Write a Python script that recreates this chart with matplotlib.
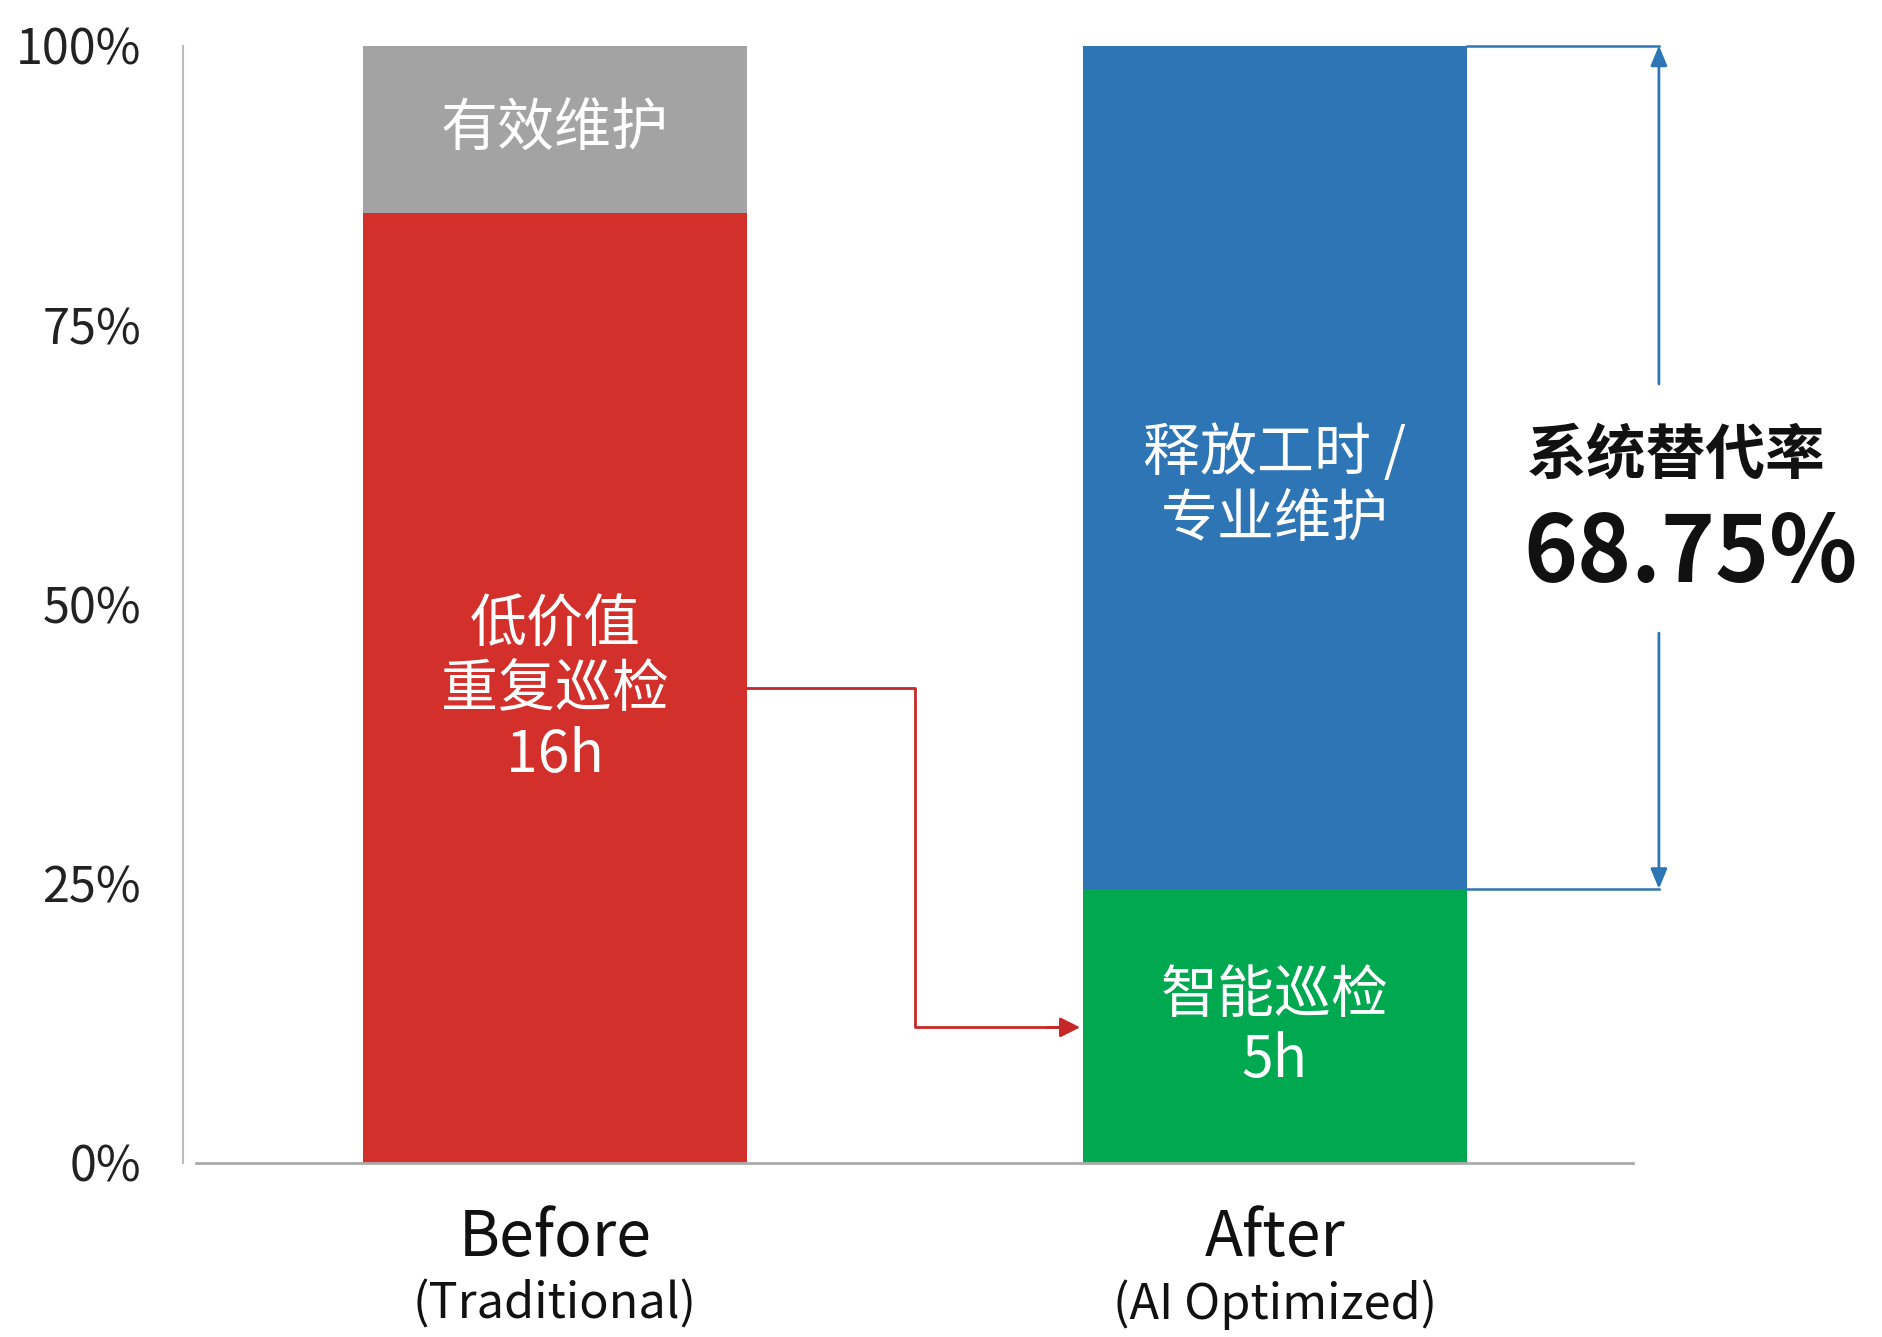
import matplotlib
matplotlib.use("Agg")
import matplotlib.pyplot as plt

plt.rcParams['font.family'] = ['Noto Sans CJK SC', 'DejaVu Sans']

# data (percent of total hours)
categories = ["Before", "After"]
subtitles = ["(Traditional)", "(AI Optimized)"]
before_low_value = 85.0     # 低价值重复巡检
before_effective = 15.0     # 有效维护
after_smart = 24.5          # 智能巡检
after_released = 75.5       # 释放工时 / 专业维护
replace_rate = "68.75%"
yticks = [0, 25, 50, 75, 100]

red = "#D3302C"
gray = "#A3A3A3"
blue = "#2E75B6"
green = "#00A850"

fig = plt.figure(figsize=(18.83, 13.37), dpi=100)
ax = fig.add_axes([0.097, 0.1305, 0.77, 0.8354])

w = 0.533
x = [0, 1]
ax.bar(x[0], before_low_value, w, color=red, zorder=2)
ax.bar(x[0], before_effective, w, bottom=before_low_value, color=gray, zorder=2)
ax.bar(x[1], after_smart, w, color=green, zorder=2)
ax.bar(x[1], after_released, w, bottom=after_smart, color=blue, zorder=2)

ax.set_xlim(-0.5167, 1.4967)
ax.set_ylim(0, 100)
ax.set_yticks(yticks)
ax.set_yticklabels([f"{t}%" for t in yticks], fontsize=35, color="#222222")
ax.tick_params(axis='y', length=0, pad=30)
ax.set_xticks([])
for s in ["top", "right"]:
    ax.spines[s].set_visible(False)
ax.spines["left"].set_color("#BBBBBB")
ax.spines["bottom"].set_color("#AAAAAA")
ax.spines["left"].set_linewidth(1.5)
ax.spines["bottom"].set_linewidth(2)
ax.spines["bottom"].set_bounds(-0.498, 1.497)

# labels inside bars
ax.text(x[0], 92.6, "有效维护", ha="center", va="center", color="white", fontsize=41)
ax.text(x[0], 42.3, "低价值\n重复巡检\n16h", ha="center", va="center", color="white",
        fontsize=41, linespacing=1.15)
ax.text(x[1], 60.5, "释放工时 /\n专业维护", ha="center", va="center", color="white",
        fontsize=41, linespacing=1.15)
ax.text(x[1], 12.0, "智能巡检\n5h", ha="center", va="center", color="white",
        fontsize=41, linespacing=1.15)

# category labels
trans = ax.get_xaxis_transform()
for xi, cat, sub in zip(x, categories, subtitles):
    ax.text(xi, -0.068, cat, transform=trans, ha="center", va="center", fontsize=45, color="#111111")
    ax.text(xi, -0.127, sub, transform=trans, ha="center", va="center", fontsize=35, color="#111111")

# red connector arrow from before to after
red_line = "#C62828"
ax.plot([x[0] + w / 2, 0.5, 0.5, 0.70], [42.5, 42.5, 12.1, 12.1], color=red_line, lw=2, zorder=3)
ax.annotate("", xy=(x[1] - w / 2, 12.1), xytext=(0.68, 12.1),
            arrowprops=dict(arrowstyle="-|>,head_length=1.2,head_width=0.6", color=red_line, lw=2))

# blue dimension line
dim_x = 1.5333
ax.plot([x[1] + w / 2, dim_x], [100, 100], color=blue, lw=1.8, clip_on=False)
ax.plot([x[1] + w / 2, dim_x], [after_smart, after_smart], color=blue, lw=1.8, clip_on=False)
ax.annotate("", xy=(dim_x, 100), xytext=(dim_x, 69.7), annotation_clip=False,
            arrowprops=dict(arrowstyle="-|>,head_length=1.2,head_width=0.5", color=blue, lw=2,
                            shrinkA=0, shrinkB=0))
ax.annotate("", xy=(dim_x, after_smart), xytext=(dim_x, 47.4), annotation_clip=False,
            arrowprops=dict(arrowstyle="-|>,head_length=1.2,head_width=0.5", color=blue, lw=2,
                            shrinkA=0, shrinkB=0))

ax.text(1.35, 63.2, "系统替代率", ha="left", va="center", fontsize=43, fontweight="bold",
        color="#111111", clip_on=False)
ax.text(1.345, 54.4, replace_rate, ha="left", va="center", fontsize=66, fontweight="bold",
        color="#111111", clip_on=False)

fig.savefig("out.png", dpi=100, facecolor="white")
